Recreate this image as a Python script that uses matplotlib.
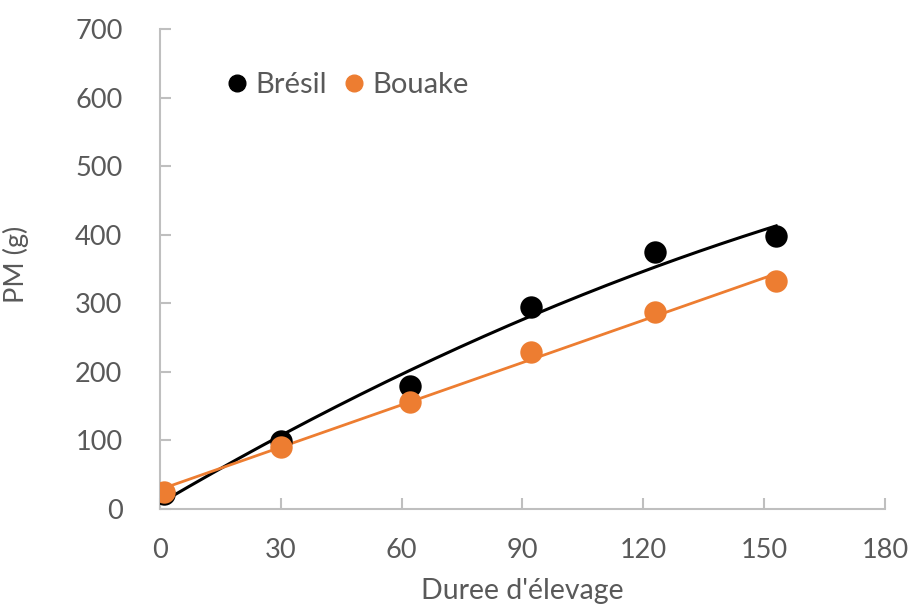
import numpy as np
import matplotlib.pyplot as plt

plt.rcParams['font.family'] = ['Lato', 'DejaVu Sans']

# Poids moyen (g) selon la durée d'élevage (jours)
jours = [1, 30, 62, 92, 123, 153]
pm_bresil = [22, 99, 180, 294, 375, 398]
pm_bouake = [25, 90, 156, 229, 287, 332]

x_ticks = [0, 30, 60, 90, 120, 150, 180]
y_ticks = [0, 100, 200, 300, 400, 500, 600, 700]

gris = '#595959'
noir = '#000000'
orange = '#ED7D31'

fig = plt.figure(figsize=(9.13, 6.08), dpi=100)
ax = fig.add_axes([0.1752, 0.1628, 0.7941, 0.7895])

# courbes de tendance: polynome d'ordre 2 (Brésil) et droite (Bouake)
xx = np.linspace(jours[0], jours[-1], 200)
p2 = np.polyfit(jours, pm_bresil, 2)
p1 = np.polyfit(jours, pm_bouake, 1)
ax.plot(xx, np.polyval(p2, xx), color=noir, lw=2.2, zorder=2)
ax.plot(xx, np.polyval(p1, xx), color=orange, lw=2.0, zorder=2)

ax.scatter(jours, pm_bresil, s=260, color=noir, zorder=3, linewidths=0)
ax.scatter(jours, pm_bouake, s=260, color=orange, zorder=4, linewidths=0)

# légende
ax.legend(handles=[
    plt.Line2D([], [], ls='', marker='o', ms=12, color=noir, label='Brésil'),
    plt.Line2D([], [], ls='', marker='o', ms=12, color=orange, label='Bouake'),
], loc='upper left', bbox_to_anchor=(0.05, 0.965), ncol=2, frameon=False,
    fontsize=21, labelcolor=gris, handletextpad=0.12, columnspacing=0.45,
    handlelength=1.0)

ax.set_xlim(0, 180)
ax.set_ylim(0, 700)
ax.set_xticks(x_ticks)
ax.set_yticks(y_ticks)
ax.tick_params(axis='both', direction='in', length=8, width=1.5, color='#BFBFBF',
               labelsize=19.5, labelcolor=gris)
ax.tick_params(axis='y', pad=27)
ax.tick_params(axis='x', pad=21)

for s in ['top', 'right']:
    ax.spines[s].set_visible(False)
for s in ['left', 'bottom']:
    ax.spines[s].set_color('#BFBFBF')
    ax.spines[s].set_linewidth(1.5)

ax.set_xlabel("Duree d'élevage", fontsize=20.5, color=gris, labelpad=11)
ax.set_ylabel('PM (g)', fontsize=19.5, color=gris)
ax.yaxis.set_label_coords(-0.18, 0.51)

fig.savefig('out.png', dpi=100)
